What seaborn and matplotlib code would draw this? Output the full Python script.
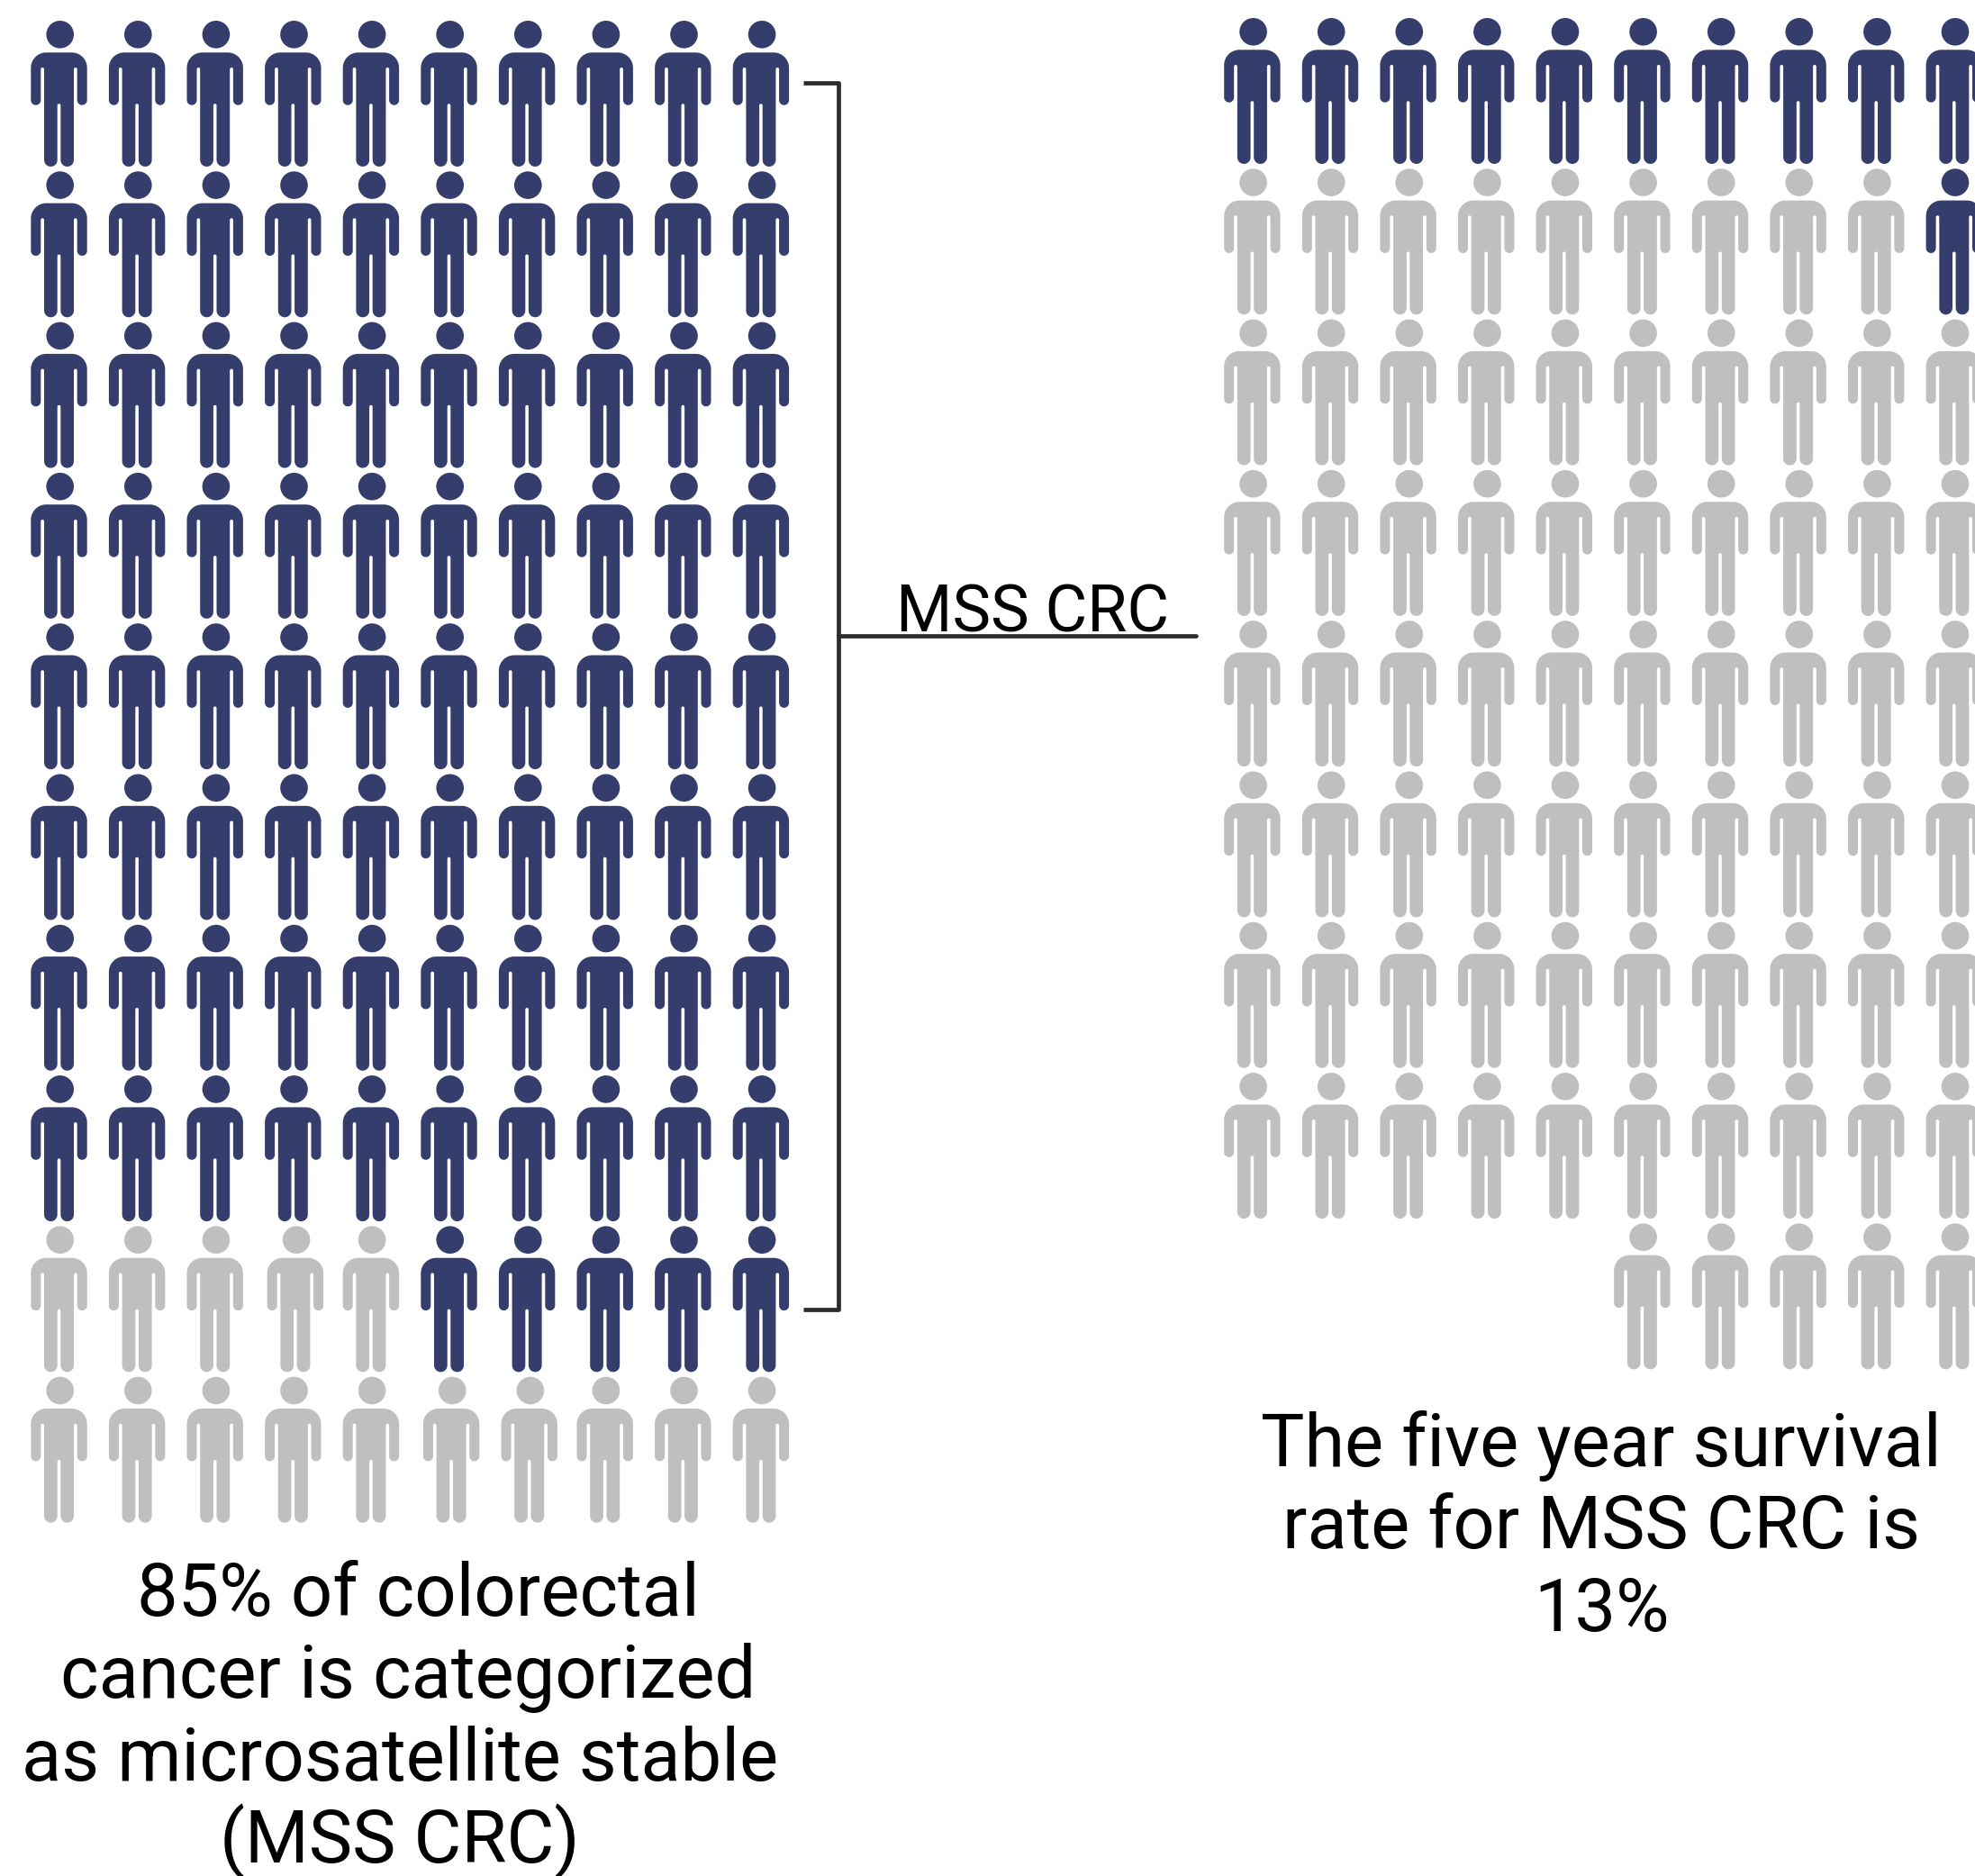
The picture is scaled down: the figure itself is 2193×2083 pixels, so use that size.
import numpy as np
import pandas as pd
import seaborn as sns
import matplotlib
matplotlib.use("Agg")
import matplotlib.pyplot as plt
from matplotlib.path import Path

# People per row of each panel; filled people sit at the right-hand end of a row
left_row_total = [10, 10, 10, 10, 10, 10, 10, 10, 10, 10]
left_row_highlighted = [10, 10, 10, 10, 10, 10, 10, 10, 5, 0]
right_row_total = [10, 10, 10, 10, 10, 10, 10, 10, 5]
right_row_highlighted = [10, 1, 0, 0, 0, 0, 0, 0, 0]

left_caption = ["85% of colorectal", "cancer is categorized",
                "as microsatellite stable", "(MSS CRC)"]
right_caption = ["The five year survival", "rate for MSS CRC is", "13%"]
bracket_label = "MSS CRC"

NAVY = "#343d6b"
GREY = "#bfbfbf"
INK = "#2b2b2b"

W, H, DPI = 2193, 2083, 100
PITCH_X, PITCH_Y = 86.6, 167.3

# A few icons in the lower left rows sit slightly off the grid (row, col): columns
LEFT_NUDGE = {(8, 3): 0.03, (9, 5): 0.03, (9, 6): 0.03}

sns.set_theme(style="white")
plt.rcParams["font.family"] = ["Roboto", "DejaVu Sans"]


def arc(cx, cy, r, a0, a1, n=14):
    t = np.radians(np.linspace(a0, a1, n))
    return np.column_stack([cx + r * np.cos(t), cy + r * np.sin(t)])


def person_marker():
    """Pictogram person, in pixels, with its origin between head and feet."""
    top, arm_end, gap_top, foot = 51.7, -6.7, 35, -75
    outer, arm_in, torso, leg_in = 31.2, 20.2, 16.5, 1.8
    arm_r = (outer - arm_in) / 2
    leg_r = (torso - leg_in) / 2
    shoulder = 17
    slit = (arm_in - torso) / 2
    half = np.vstack([
        arc(outer - shoulder, top - shoulder, shoulder, 90, 0),
        arc(outer - arm_r, arm_end + arm_r, arm_r, 0, -180),
        arc(arm_in - slit, gap_top - slit, slit, 0, 180),
        arc(leg_in + leg_r, foot + leg_r, leg_r, 0, -180),
        arc(0, -7, leg_in, 0, 90, 6),
    ])
    mirrored = half[::-1] * [-1, 1]
    body = np.vstack([half, mirrored, half[:1]])
    codes = [Path.MOVETO] + [Path.LINETO] * (len(body) - 2) + [Path.CLOSEPOLY]
    head = Path.circle((1.2, 71.7), 15.3)
    return Path.make_compound_path(head, Path(body, codes))


def people_table(totals, highlighted, nudge):
    rows = []
    for r, (total, hi) in enumerate(zip(totals, highlighted)):
        for c in range(10 - total, 10):
            rows.append({"col": c + nudge.get((r, c), 0), "row": r,
                         "group": "yes" if c >= 10 - hi else "no"})
    return pd.DataFrame(rows)


marker = person_marker()
extent = np.abs(marker.vertices).max()
marker_size = (2 * extent * 72 / DPI) ** 2

fig = plt.figure(figsize=(W / DPI, H / DPI), dpi=DPI, facecolor="white")


def panel(x0, y0, n_cols, n_rows):
    """Axes whose first person is centred on pixel (x0, y0)."""
    left = x0 - PITCH_X / 2
    top = y0 - PITCH_Y / 2
    width = min(PITCH_X * n_cols, W - left)
    ax = fig.add_axes([left / W, 1 - (top + PITCH_Y * n_rows) / H,
                       width / W, PITCH_Y * n_rows / H])
    ax.set_xlim(-0.5, -0.5 + width / PITCH_X)
    ax.set_ylim(n_rows - 0.5, -0.5)
    ax.axis("off")
    return ax


for (totals, hi, nudge, x0, y0) in [
        (left_row_total, left_row_highlighted, LEFT_NUDGE, 65.5, 110),
        (right_row_total, right_row_highlighted, {}, 1390.4, 107)]:
    ax = panel(x0, y0, 10, len(totals))
    sns.scatterplot(data=people_table(totals, hi, nudge), x="col", y="row", hue="group",
                    palette={"yes": NAVY, "no": GREY}, marker=marker,
                    s=marker_size, linewidth=0, legend=False, clip_on=False, ax=ax)

# Overlay in pixel units for the bracket and the captions
over = fig.add_axes([0, 0, 1, 1])
over.set_xlim(0, W)
over.set_ylim(H, 0)
over.axis("off")
over.patch.set_alpha(0)

over.plot([892, 930.5, 930.5, 892], [92, 92, 1454, 1454], color=INK, lw=3.4,
          solid_capstyle="butt", solid_joinstyle="round")
over.plot([930.5, 1328], [706, 706], color=INK, lw=3.4, solid_capstyle="round")
over.text(1147, 702, bracket_label, ha="center", va="baseline",
          fontsize=51.6, color="black")

for line, cx, base in zip(left_caption, [464, 453.5, 444, 444],
                          [1794, 1885, 1977, 2068]):
    over.text(cx, base, line, ha="center", va="baseline", fontsize=58.5, color="black")
for line, cx, base in zip(right_caption, [1778, 1778, 1779],
                          [1628, 1719, 1811]):
    over.text(cx, base, line, ha="center", va="baseline", fontsize=58.4, color="black")

fig.savefig("out.png", dpi=DPI, facecolor="white")
